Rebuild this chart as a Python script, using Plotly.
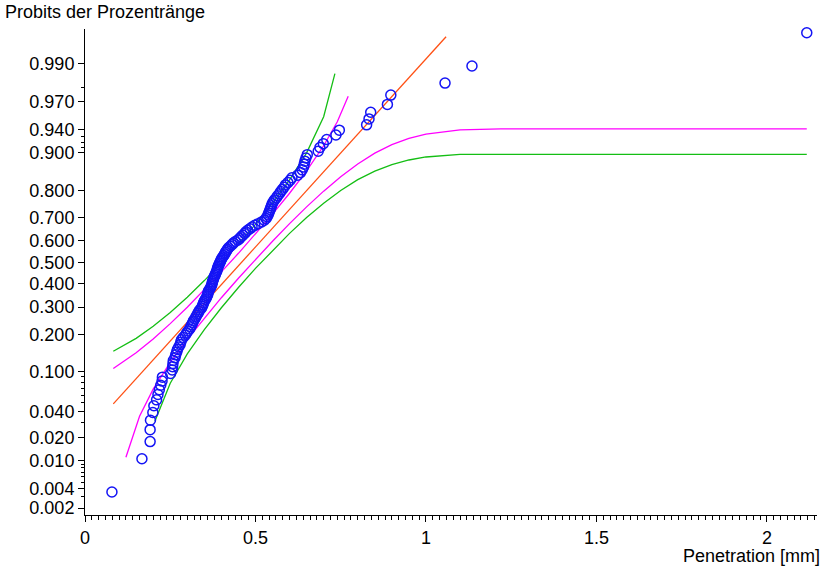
import plotly.graph_objects as go
from statistics import NormalDist

probit = NormalDist().inv_cdf

# ---- data (sorted penetration values, mm) ----
penetration = [
    0.079, 0.167, 0.191, 0.191, 0.192, 0.199, 0.202, 0.210, 0.214, 0.218,
    0.222, 0.226, 0.227, 0.251, 0.256, 0.257, 0.258, 0.259, 0.264, 0.266,
    0.269, 0.271, 0.275, 0.279, 0.281, 0.283, 0.288, 0.294, 0.298, 0.302,
    0.307, 0.310, 0.313, 0.316, 0.318, 0.322, 0.325, 0.328, 0.331, 0.334,
    0.337, 0.342, 0.344, 0.346, 0.348, 0.350, 0.353, 0.356, 0.358, 0.360,
    0.361, 0.362, 0.365, 0.368, 0.370, 0.372, 0.373, 0.374, 0.376, 0.377,
    0.379, 0.381, 0.383, 0.385, 0.387, 0.388, 0.389, 0.391, 0.393, 0.395,
    0.397, 0.399, 0.401, 0.404, 0.407, 0.410, 0.412, 0.415, 0.418, 0.421,
    0.426, 0.431, 0.435, 0.441, 0.449, 0.454, 0.458, 0.463, 0.468, 0.472,
    0.477, 0.484, 0.490, 0.498, 0.508, 0.518, 0.526, 0.531, 0.534, 0.537,
    0.539, 0.541, 0.543, 0.545, 0.547, 0.549, 0.552, 0.556, 0.561, 0.565,
    0.570, 0.574, 0.579, 0.584, 0.588, 0.595, 0.602, 0.607, 0.624, 0.632,
    0.637, 0.641, 0.643, 0.645, 0.648, 0.652, 0.684, 0.689, 0.699, 0.709,
    0.736, 0.746, 0.826, 0.833, 0.838, 0.887, 0.897, 1.056, 1.135, 2.117,
]

# fitted normal line (orange)
fit_x = [0.083, 0.30, 0.50, 0.70, 1.059]
fit_p = [0.0487, 0.2416, 0.5717, 0.8560, 0.9959]

# outer confidence band (green)
green_up_x = [0.083, 0.15, 0.20, 0.25, 0.30, 0.35, 0.40, 0.45, 0.50, 0.55, 0.60, 0.65, 0.70, 0.733]
green_up_p = [0.1487, 0.1866, 0.2267, 0.2784, 0.3416, 0.4154, 0.4974, 0.5842, 0.6717, 0.7559, 0.8329, 0.9002, 0.9560, 0.9865]
green_lo_x = [0.205, 0.25, 0.30, 0.35, 0.40, 0.45, 0.50, 0.55, 0.60, 0.65, 0.70, 0.75, 0.80, 0.85, 0.90, 0.95, 1.00, 1.10, 2.117]
green_lo_p = [0.0313, 0.0784, 0.1416, 0.2154, 0.2974, 0.3842, 0.4717, 0.5559, 0.6329, 0.7002, 0.7560, 0.8003, 0.8336, 0.8576, 0.8741, 0.8848, 0.8915, 0.8970, 0.8970]

# inner confidence band (magenta)
mag_up_x = [0.083, 0.15, 0.20, 0.25, 0.30, 0.35, 0.40, 0.45, 0.50, 0.55, 0.60, 0.65, 0.70, 0.74, 0.772]
mag_up_p = [0.1067, 0.1446, 0.1847, 0.2364, 0.2996, 0.3734, 0.4554, 0.5422, 0.6297, 0.7139, 0.7909, 0.8582, 0.9140, 0.9503, 0.9742]
mag_lo_x = [0.120, 0.16, 0.20, 0.25, 0.30, 0.35, 0.40, 0.45, 0.50, 0.55, 0.60, 0.65, 0.70, 0.75, 0.80, 0.85, 0.90, 0.95, 1.00, 1.10, 1.22, 2.117]
mag_lo_p = [0.0112, 0.0357, 0.0687, 0.1204, 0.1836, 0.2574, 0.3394, 0.4262, 0.5137, 0.5979, 0.6749, 0.7422, 0.7980, 0.8423, 0.8756, 0.8996, 0.9161, 0.9268, 0.9335, 0.9396, 0.9410, 0.9410]

y_tick_p = [0.002, 0.004, 0.010, 0.020, 0.040, 0.100, 0.200, 0.300, 0.400, 0.500,
            0.600, 0.700, 0.800, 0.900, 0.940, 0.970, 0.990]
y_minor_p = [0.003, 0.005, 0.006, 0.007, 0.008, 0.009, 0.03, 0.05, 0.06, 0.07,
             0.08, 0.09, 0.91, 0.92, 0.93, 0.98]
x_tick_vals = [0, 0.5, 1, 1.5, 2]
x_tick_text = ["0", "0.5", "1", "1.5", "2"]

# ---- empirical plotting positions (Hazen) ----
n = len(penetration)
rank_p = [(i + 0.5) / n for i in range(n)]

FONT = "Liberation Sans, Arial, sans-serif"

fig = go.Figure()

def band(xs, ps, color):
    fig.add_trace(go.Scatter(x=xs, y=[probit(p) for p in ps], mode="lines",
                             line=dict(color=color, width=1.3), hoverinfo="skip"))

band(green_up_x, green_up_p, "rgb(20,190,20)")
band(green_lo_x, green_lo_p, "rgb(20,190,20)")
band(mag_up_x, mag_up_p, "rgb(255,0,255)")
band(mag_lo_x, mag_lo_p, "rgb(255,0,255)")
band(fit_x, fit_p, "rgb(255,80,20)")

fig.add_trace(go.Scatter(
    x=penetration, y=[probit(p) for p in rank_p], mode="markers",
    marker=dict(symbol="circle-open", size=10, color="rgb(20,20,245)",
                line=dict(width=1.5, color="rgb(20,20,245)")),
    cliponaxis=False))

fig.update_layout(
    width=831, height=570,
    margin=dict(l=85, r=14, t=29, b=55),
    paper_bgcolor="white", plot_bgcolor="white",
    showlegend=False,
    font=dict(family=FONT, size=18, color="black"),
    xaxis=dict(range=[0, 2.147], tickmode="array", tickvals=x_tick_vals,
               ticktext=x_tick_text, ticks="outside", ticklen=6, tickwidth=1,
               tickcolor="black", showline=True, linecolor="black", linewidth=1,
               showgrid=False, zeroline=False,
               minor=dict(ticks="outside", ticklen=4, tickwidth=1, tickcolor="black",
                          tickmode="linear", tick0=0, dtick=0.02, showgrid=False)),
    yaxis=dict(range=[-2.96, 2.734], tickmode="array",
               tickvals=[probit(p) for p in y_tick_p],
               ticktext=[f"{p:.3f}" for p in y_tick_p],
               ticks="outside", ticklen=6, tickwidth=1, tickcolor="black",
               showline=True, linecolor="black", linewidth=1,
               showgrid=False, zeroline=False,
               minor=dict(ticks="outside", ticklen=3, tickwidth=1, tickcolor="black",
                          tickmode="array", tickvals=[probit(p) for p in y_minor_p],
                          showgrid=False)),
    annotations=[
        dict(text="Probits der Prozentränge", xref="paper", yref="paper",
             x=-0.112, y=1.035, xanchor="left", yanchor="middle",
             showarrow=False, font=dict(size=18)),
        dict(text="Penetration [mm]", xref="paper", yref="paper",
             x=1.0068, y=-0.0845, xanchor="right", yanchor="middle",
             showarrow=False, font=dict(size=18)),
    ],
)

fig.write_html("out.html")
